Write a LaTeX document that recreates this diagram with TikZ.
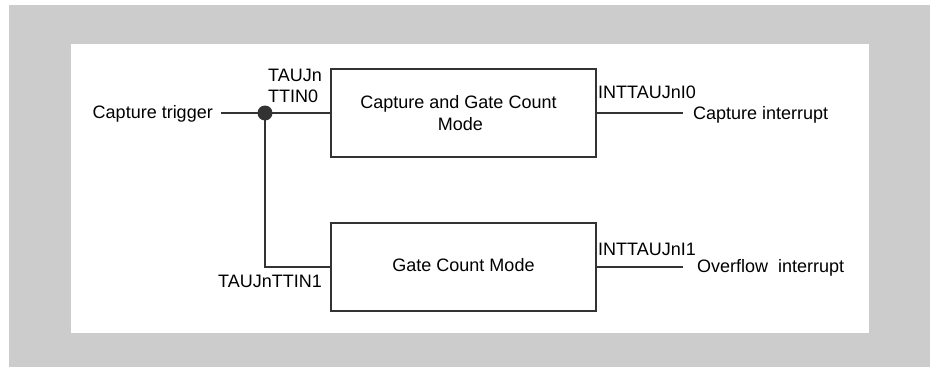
\documentclass[tikz,border=0pt]{standalone}
\usepackage{fontspec}
\setmainfont{Liberation Sans}
\definecolor{graybg}{HTML}{CCCCCC}
\definecolor{linec}{HTML}{333333}
\begin{document}
\begin{tikzpicture}[x=1pt,y=-1pt,
  every node/.style={font=\fontsize{18}{21}\selectfont, inner sep=0pt, text=black},
  blk/.style={draw=linec, line width=1.3pt, minimum width=265pt, minimum height=88pt, align=center, font=\fontsize{18}{22}\selectfont},
  wire/.style={draw=linec, line width=1.3pt},
  lbl/.style={anchor=base west}]
\useasboundingbox (0,0) rectangle (930,367);
\fill[graybg] (9,5) rectangle (930,367);
\fill[white] (71,44) rectangle (869,333);
% blocks
\node[blk] (b1) at (463.5,113) {\raisebox{-3.4pt}{Capture and Gate Count}\hspace*{10pt}\\\raisebox{-3.4pt}{Mode}\hspace*{6pt}};
\node[blk] (b2) at (463.5,267) {\raisebox{3.5pt}{Gate Count Mode}};
% input side
\node[anchor=base east] (ct) at (213,118.5) {Capture trigger};
\coordinate (ctend) at (221,113);
\node[circle, fill=linec, minimum size=15pt] (dot) at (265,113) {};
\coordinate (corner) at (265,267);
\draw[wire] (ctend) -- (dot.center) -- (b1.west);
\draw[wire] (dot.center) -- (corner) -- (b2.west);
\node[anchor=north west, align=left] (tin0) at (268,69.3) {TAUJn\\TTIN0};
\node[anchor=base east] (tin1) at (322,287) {TAUJnTTIN1};
% output side
\coordinate (o1) at (683,113);
\coordinate (o2) at (683,267);
\draw[wire] (b1.east) -- (o1);
\draw[wire] (b2.east) -- (o2);
\node[lbl] (i0) at (598,98.3) {INTTAUJnI0};
\node[lbl] (i1) at (598,255) {INTTAUJnI1};
\node[lbl] (ci) at (693,119.3) {Capture interrupt};
\node[lbl] (oi) at (697,272.7) {Overflow\ \ interrupt};
\end{tikzpicture}
\end{document}
